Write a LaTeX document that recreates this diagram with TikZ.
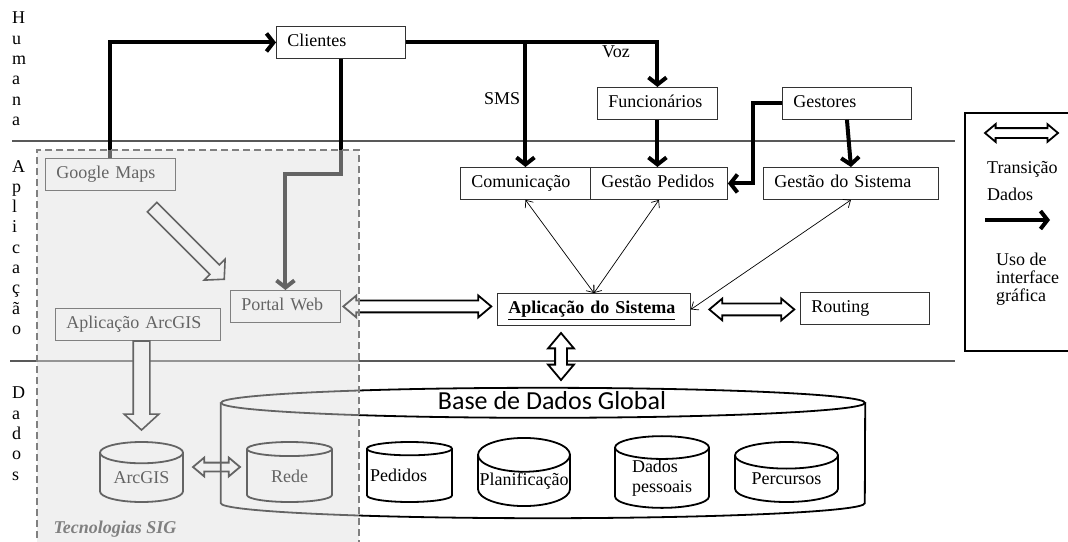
\documentclass[tikz,border=0pt]{standalone}
\usepackage{fontspec}
\setmainfont{Liberation Serif}
\newfontfamily\calibri{Carlito}
\usetikzlibrary{arrows.meta,shapes.geometric,shapes.arrows,calc}

\tikzset{
	box/.style={draw=black!80, line width=0.9pt, minimum height=32pt, inner xsep=11pt, inner ysep=0pt, text height=13pt, text depth=4pt, text width=#1, align=left, anchor=north west},
	db/.style={cylinder, shape border rotate=90, draw, line width=1.8pt, aspect=0.38, minimum height=60pt, inner sep=0pt, align=left, anchor=shape center},
	flow/.style={line width=4pt, -{Straight Barb[length=7pt,width=18pt]}},
	link/.style={line width=0.7pt, {Straight Barb[length=6pt,width=10pt]}-{Straight Barb[length=6pt,width=10pt]}},
	dbl/.style={double arrow, draw, fill=white, line width=1.8pt, inner xsep=0pt, inner ysep=5pt, double arrow head extend=5pt, double arrow tip angle=80},
	hollow/.style={single arrow, draw, fill=white, line width=1.6pt, inner xsep=0pt, single arrow tip angle=95},
	layer/.style={draw=black!65, line width=1.2pt},
	vlabel/.style={align=left, inner sep=0pt, anchor=north west}
}

\begin{document}
\begin{tikzpicture}[x=1pt, y=-1pt, font=\fontsize{18}{20.3}\selectfont]
	\useasboundingbox (0,0) rectangle (1068,541);
	
	\newcommand{\yHum}{141}
	\newcommand{\yDad}{361}
	\draw[layer] (12,\yHum) -- (955,\yHum);
	\draw[layer] (10,\yDad) -- (955,\yDad);
	
	% camadas
	\node[vlabel] (lhum) at (12,12) {H\\u\\m\\a\\n\\a};
	\node[vlabel] (lapl) at (12,160) {A\\p\\l\\i\\c\\a\\ç\\ã\\o};
	\node[vlabel] (ldad) at (12,387) {D\\a\\d\\o\\s};
	
	% humana
	\node[box=107pt] (cli) at (276,26) {Clientes};
	\node[box=98pt] (func) at (597,87) {Funcionários};
	\node[box=107pt] (gest) at (782,87) {Gestores};
	
	% aplicacao
	\node[box=108pt] (com) at (460,167) {Comunicação};
	\node[box=115pt] (gped) at (590,167) {Gestão Pedidos};
	\node[box=153pt] (gsis) at (763,167) {Gestão do Sistema};
	\node[box=108pt] (gmaps) at (45,158) {Google Maps};
	\node[box=88pt] (portal) at (230,290) {Portal Web};
	\node[box=143pt] (arcapp) at (55,308) {Aplicação ArcGIS};
	\node[box=171pt] (app) at (497,293) {\textbf{\underline{Aplicação do Sistema}}};
	\node[box=107pt] (rout) at (800,292) {Routing};
	
	% dados
	\node[minimum width=644pt, minimum height=130pt, inner sep=0pt] (gdb) at (543,453) {};
	\draw[line width=1.8pt, fill=white] ($(gdb.north west)+(0,15)$) -- ($(gdb.south west)+(0,-15)$)
		arc[start angle=180, end angle=0, x radius=322, y radius=15] -- ($(gdb.north east)+(0,15)$);
	\draw[line width=1.8pt] ($(gdb.north)+(0,15)$) ellipse[x radius=322, y radius=15];
	\node[font=\calibri\fontsize{26}{30}\selectfont] (gdbtxt) at (552,401) {Base de Dados Global};
	\node[db, minimum width=83pt] (arcgis) at (141.5,472) {ArcGIS};
	\node[db, minimum width=85pt] (rede) at (289.5,472) {Rede};
	\node[db, minimum width=85pt] (ped) at (409.5,472) {\hspace*{-22pt}Pedidos};
	\node[db, minimum width=92pt] (plan) at (524,472) {Planificação};
	\node[db, minimum width=94pt] (pess) at (662,472) {Dados\\pessoais};
	\node[db, minimum width=103pt] (perc) at (786.5,472) {Percursos};
	
	% uso de interface grafica
	\draw[flow] (gmaps.north) |- (cli.west);
	\draw[flow] (cli.east) -| (func.north);
	\draw[flow] (cli.east -| com.north) -- node[left, pos=0.45] {SMS} (com.north);
	\node[anchor=north west, inner sep=0pt] (voz) at (602,46) {Voz};
	\draw[flow] (func.south) -- (func.south |- gped.north);
	\draw[flow] (gest.west) -- ++(-29,0) |- (gped.east);
	\draw[flow] (gest.south) -- (gsis.north);
	\draw[flow] (cli.south) -- ++(0,115) -| (portal.north);
	
	\draw[link] (com.south) -- (app.north);
	\draw[link] (gped.south) -- (app.north);
	\draw[link] (gsis.south) -- (app.east);
	
	% transicao de dados
	\node[dbl, minimum height=148pt, anchor=west] (pw2app) at ([xshift=1pt]portal.east) {};
	\node[dbl, minimum height=85pt, anchor=west] (app2rout) at ([xshift=17pt]app.east) {};
	\node[dbl, rotate=90, minimum height=47pt, double arrow head extend=7pt] (app2db) at (561,356.5) {};
	\node[dbl, fill=none, minimum height=47pt, inner ysep=3.5pt, double arrow head extend=5pt] (arc2rede) at (216.5,467) {};
	\node[hollow, rotate=-90, minimum height=89pt, inner ysep=7.5pt, single arrow head extend=9pt, anchor=tip] (arc2arc) at ($(arcgis.north)+(0,-10)$) {};
	\node[hollow, rotate=-45, minimum height=102pt, inner ysep=6pt, single arrow head extend=8pt, anchor=tip] (gm2pw) at ($(portal.north west)+(-5,-10)$) {};
	
	% tecnologias SIG
	\fill[black!13, fill opacity=0.45] (37,150) rectangle (359,560);
	\draw[black!50, line width=1.5pt, dash pattern=on 7pt off 4pt] (37,560) -- (37,150) -- (359,150) -- (359,560);
	\node[anchor=base west, text=black!50, font=\fontsize{18}{20}\selectfont\bfseries\itshape] (sig) at (50,533) {Tecnologias SIG};
	
	% legenda
	\draw[line width=2pt] (965,113) rectangle (1080,351);
	\node[dbl, minimum height=73pt, inner ysep=4pt, double arrow head extend=4pt] (legdbl) at (1021.5,133) {};
	\node[anchor=base west, align=left, inner sep=0pt, font=\fontsize{18}{27}\selectfont] (legtr) at (987,200) {Transição\\Dados};
	\coordinate (legA) at (985,220);
	\coordinate (legB) at (1050,220);
	\draw[flow] (legA) -- (legB);
	\node[anchor=base west, align=left, inner sep=0pt, font=\fontsize{18}{18}\selectfont] (leguso) at (996,301) {Uso de\\interface\\gráfica};
\end{tikzpicture}
\end{document}
